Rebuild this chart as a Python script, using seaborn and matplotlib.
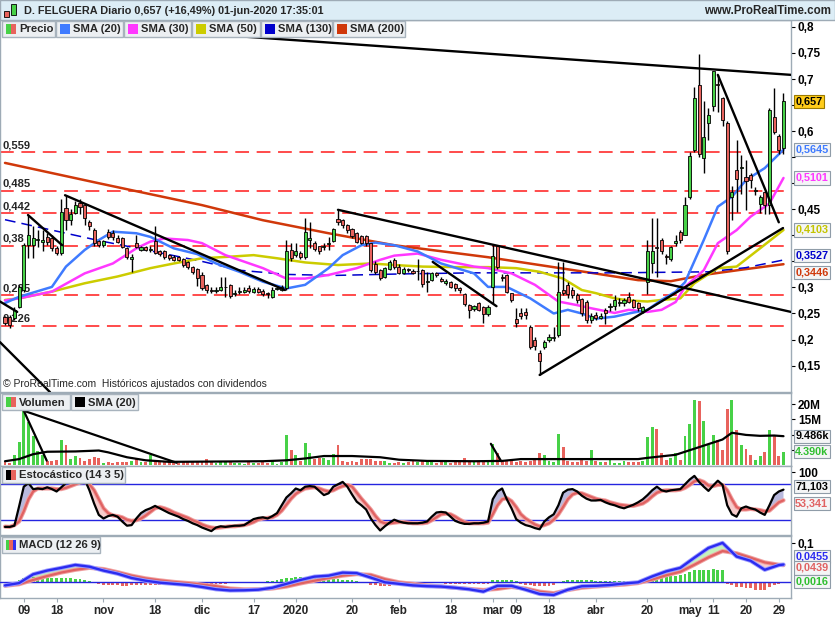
import numpy as np
import pandas as pd
import matplotlib
matplotlib.use("Agg")
import matplotlib.pyplot as plt
from matplotlib.patches import Rectangle
from matplotlib.transforms import Affine2D
from matplotlib.ticker import FuncFormatter, FixedLocator
import seaborn as sns

sns.set_style("white")
plt.rcParams["font.family"] = ["Liberation Sans", "DejaVu Sans"]

# ---------------- data ----------------
holidays = ["2019-12-25", "2019-12-26", "2020-01-01", "2020-04-10", "2020-04-13", "2020-05-01"]
dates = pd.bdate_range("2019-10-03", "2020-06-01")
dates = dates[~dates.isin(pd.to_datetime(holidays))]

opens = [.244,.243,.241,.263,.295,.381,.382,.392,.388,.396,
         .394,.375,.367,.452,.430,.442,.462,.458,.426,.410,
         .389,.381,.407,.405,.394,.394,.375,.355,.385,.372,
         .378,.372,.390,.370,.370,.362,.359,.358,.354,.348,
         .340,.335,.324,.305,.296,.293,.296,.300,.305,.288,
         .291,.292,.298,.292,.297,.294,.289,.282,.297,.296,
         .298,.372,.362,.366,.359,.392,.385,.379,.378,.383,
         .390,.431,.430,.420,.412,.405,.398,.398,.385,.345,
         .334,.320,.335,.353,.340,.328,.335,.332,.331,.333,
         .310,.315,.327,.317,.308,.311,.306,.298,.287,.266,
         .258,.270,.263,.249,.300,.379,.320,.324,.289,.240,
         .250,.253,.225,.200,.175,.185,.199,.202,.209,.295,
         .305,.295,.285,.277,.272,.237,.247,.242,.257,.263,
         .264,.270,.270,.281,.275,.271,.255,.310,.347,.378,
         .391,.360,.354,.385,.407,.401,.473,.564,.689,.548,
         .615,.648,.690,.663,.615,.474,.525,.530,.512,.516,
         .486,.460,.483,.458,.628,.591,.567]
highs = [.246,.247,.262,.305,.385,.439,.417,.410,.410,.405,
         .400,.380,.470,.478,.450,.465,.470,.460,.430,.415,
         .392,.392,.412,.410,.400,.397,.378,.365,.400,.380,
         .380,.380,.417,.372,.372,.365,.362,.360,.356,.350,
         .342,.337,.330,.307,.300,.300,.320,.320,.307,.295,
         .300,.300,.305,.300,.300,.297,.292,.300,.300,.305,
         .392,.385,.385,.370,.433,.425,.390,.380,.385,.397,
         .415,.449,.432,.422,.414,.407,.400,.400,.386,.350,
         .336,.340,.352,.356,.345,.340,.338,.335,.354,.336,
         .330,.330,.330,.320,.316,.313,.308,.300,.290,.268,
         .266,.272,.265,.266,.381,.382,.325,.326,.290,.260,
         .260,.260,.228,.205,.180,.200,.210,.225,.349,.349,
         .310,.300,.290,.280,.275,.250,.252,.250,.260,.270,
         .285,.280,.280,.292,.278,.273,.265,.391,.433,.433,
         .395,.365,.380,.400,.410,.474,.560,.685,.748,.657,
         .644,.716,.708,.665,.620,.494,.583,.554,.545,.520,
         .493,.477,.485,.645,.682,.595,.674]
lows = [.228,.222,.238,.260,.292,.356,.356,.378,.370,.382,
        .370,.362,.362,.410,.420,.440,.440,.420,.410,.380,
        .378,.378,.393,.392,.385,.375,.355,.330,.375,.370,
        .370,.368,.365,.360,.355,.352,.350,.350,.340,.335,
        .325,.302,.295,.290,.290,.290,.294,.282,.280,.283,
        .288,.290,.290,.290,.289,.283,.279,.280,.295,.294,
        .296,.350,.358,.355,.355,.375,.370,.365,.372,.372,
        .388,.420,.415,.405,.395,.385,.383,.380,.330,.325,
        .315,.318,.333,.336,.325,.325,.330,.325,.314,.300,
        .292,.312,.320,.310,.305,.298,.294,.290,.265,.241,
        .255,.255,.231,.246,.270,.335,.312,.290,.272,.225,
        .240,.240,.182,.180,.132,.182,.195,.198,.205,.285,
        .280,.280,.270,.245,.232,.232,.238,.240,.230,.255,
        .257,.265,.265,.270,.260,.255,.250,.288,.327,.320,
        .365,.345,.350,.380,.385,.400,.470,.560,.550,.520,
        .583,.638,.637,.610,.365,.430,.445,.480,.449,.490,
        .477,.442,.441,.441,.595,.557,.557]
closes = [.232,.228,.257,.301,.381,.400,.394,.392,.392,.388,
          .375,.367,.445,.429,.440,.458,.455,.433,.417,.385,
          .381,.389,.397,.396,.388,.378,.358,.359,.378,.378,
          .372,.374,.367,.364,.359,.356,.353,.353,.343,.339,
          .330,.319,.298,.295,.294,.295,.300,.300,.284,.290,
          .293,.296,.294,.297,.292,.288,.287,.296,.298,.300,
          .369,.356,.369,.359,.407,.395,.373,.369,.378,.386,
          .412,.426,.420,.410,.399,.388,.386,.385,.334,.330,
          .319,.337,.349,.340,.328,.336,.333,.328,.331,.306,
          .312,.327,.323,.313,.313,.301,.298,.295,.269,.257,
          .264,.257,.249,.263,.360,.340,.318,.292,.276,.232,
          .245,.247,.186,.187,.159,.196,.204,.205,.292,.289,
          .287,.285,.276,.250,.237,.245,.242,.246,.251,.263,
          .276,.272,.276,.273,.263,.260,.262,.370,.370,.375,
          .370,.358,.378,.389,.391,.458,.552,.663,.557,.588,
          .631,.716,.688,.621,.370,.484,.509,.530,.505,.506,
          .486,.473,.458,.641,.599,.564,.657]

# moving averages (bar index, value)
sma20_bar = [0,3,10,13,17,20,23,28,31,36,41,45,50,55,60,64,69,72,76,79,83,88,93,100,103,107,112,117,120,123,126,130,133,137,140,143,145,149,152,155,158,162,166]
sma20_val = [.270,.282,.301,.340,.372,.391,.407,.404,.397,.375,.364,.346,.330,.311,.298,.305,.337,.362,.381,.386,.381,.369,.346,.327,.301,.301,.279,.250,.257,.250,.240,.244,.250,.257,.276,.292,.310,.391,.455,.474,.506,.529,.5645]
sma30_bar = [0,3,10,17,23,28,31,34,39,42,47,55,60,64,69,75,80,83,88,93,100,103,108,113,118,122,125,130,133,137,140,143,145,149,152,156,159,163,166]
sma30_val = [.275,.279,.292,.327,.346,.375,.388,.394,.391,.385,.362,.337,.317,.317,.324,.337,.353,.361,.365,.353,.340,.337,.327,.305,.273,.266,.260,.251,.257,.253,.257,.272,.301,.333,.385,.410,.436,.461,.5101]
sma50_bar = [0,3,10,17,24,31,36,42,48,53,58,64,71,78,83,89,96,103,109,114,119,123,126,130,133,137,140,144,147,152,156,161,166]
sma50_val = [.276,.279,.292,.308,.321,.337,.346,.356,.359,.362,.356,.348,.343,.346,.343,.340,.339,.339,.337,.330,.317,.295,.289,.279,.275,.273,.276,.279,.308,.337,.340,.375,.4103]
sma130_bar = [0,10,20,30,42,50,60,70,85,100,130,150,158,166]
sma130_val = [.430,.410,.390,.372,.350,.333,.325,.323,.326,.328,.328,.330,.338,.3527]
sma200_bar = [0,20,42,55,69,83,103,125,135,142,149,157,166]
sma200_val = [.539,.500,.458,.429,.404,.381,.358,.328,.314,.312,.324,.334,.3446]

levels = [0.559, 0.485, 0.442, 0.380, 0.285, 0.226]

# hand-drawn trend lines: start bar, start price, end bar, end price
trend_b0 = [50, 71, 12.8, 4.9, 91.2, 114, 152, -1.07, -1.07]
trend_p0 = [.782, .449, .477, .439, .349, .132, .708, .273, .195]
trend_b1 = [167.6, 167.6, 59.7, 12.2, 104.8, 165.9, 165, 2.6, 9.6]
trend_p1 = [.708, .253, .295, .381, .264, .414, .425, .253, .099]

volume = [1.2,0.8,3.2,7.7,18.0,14.0,9.5,4.5,3.4,1.5,
          1.5,1.7,8.4,6.7,1.9,3.0,2.3,1.5,1.9,2.8,
          2.3,0.8,1.0,0.6,1.0,1.0,1.0,1.5,2.3,1.0,
          1.0,3.2,1.5,1.5,1.2,1.5,0.8,0.6,1.2,1.0,
          1.5,1.2,1.5,2.0,1.0,0.8,1.0,1.5,1.2,0.6,
          0.8,0.5,1.0,0.6,0.8,1.0,0.6,1.5,0.5,1.0,
          9.9,4.9,3.2,1.5,7.4,4.1,2.0,2.3,2.3,1.8,
          3.7,6.6,1.5,1.2,1.5,1.2,2.0,2.0,2.0,1.5,
          1.5,1.5,0.8,0.8,1.2,0.6,1.0,1.5,1.0,1.5,
          1.2,1.8,0.8,1.0,1.5,0.8,1.0,1.2,2.5,1.2,
          1.0,1.5,1.2,1.0,6.9,4.1,1.5,1.5,1.5,1.2,
          1.5,1.0,1.5,1.8,4.1,3.3,1.5,1.2,10.2,5.8,
          1.5,1.0,1.2,1.8,1.5,5.0,1.5,1.2,1.0,1.8,
          0.6,0.8,1.5,1.0,1.2,1.0,1.5,9.1,12.4,11.7,
          3.9,1.7,2.2,4.1,1.7,9.5,13.5,21.3,21.0,14.4,
          6.6,9.9,8.4,5.0,18.4,21.3,11.5,6.6,5.2,3.3,
          1.7,3.0,4.4,11.5,9.9,3.0,4.39]
vsma_bar = [0,3,6,9,15,20,22,26,30,35,45,55,60,64,68,74,80,84,90,100,106,110,120,135,137,143,148,153,155,158,161,164,166]
vsma_val = [1.3,2.0,3.6,4.4,4.5,4.8,4.2,2.6,1.6,1.1,1.2,1.3,1.6,2.2,3.0,3.0,2.6,1.8,1.4,1.3,1.4,2.0,2.0,2.0,2.4,3.4,5.9,8.4,10.6,9.9,9.6,9.7,9.486]
vol_trend_b0 = [4.0, 4.0, 103.6]
vol_trend_v0 = [17.8, 17.8, 7.0]
vol_trend_b1 = [8.9, 36.6, 105.8]
vol_trend_v1 = [1.5, 0.8, 1.3]

stoch_k = [9,9,11,43,76,82,72,73,72,75,
           72,68,75,82,85,87,88,88,70,48,
           29,23,27,29,26,18,11,12,23,32,
           37,40,44,40,36,32,29,26,22,19,
           15,12,8,5,2,8,10,9,10,11,
           11,12,17,22,24,25,23,27,32,45,
           58,65,73,70,76,77,76,69,62,65,
           76,80,84,76,63,51,45,38,23,12,
           3,10,16,21,18,16,15,15,15,16,
           18,26,33,34,33,26,19,16,14,14,
           15,15,16,18,55,68,73,55,40,22,
           16,12,10,7,5,18,25,30,45,66,
           71,72,68,61,56,53,53,54,50,47,
           45,42,40,43,46,50,55,62,70,76,
           70,68,70,71,72,80,88,94,84,76,
           69,78,86,79,45,30,26,40,43,40,
           38,33,29,45,62,68,71.103]
stoch_d = [9.5,9,12,18,35,55,68,73,73,73,
           73,72,72,74,77,80,83,84,80,70,
           55,40,32,28,27,25,21,19,20,23,
           28,34,40,42,40,37,33,30,27,24,
           20,17,13,10,8,7,8,9,10,10,
           11,12,14,17,21,23,24,25,29,36,
           46,56,64,69,73,74,75,73,70,68,
           70,74,77,79,76,66,56,47,38,27,
           18,15,15,16,17,17,16,15,15,15,
           16,20,25,30,31,30,26,21,17,15,
           15,15,15,16,30,45,55,57,52,42,
           30,23,18,13,10,12,15,21,30,42,
           55,63,66,65,62,59,56,54,53,50,
           48,46,45,44,44,46,48,53,60,66,
           69,70,70,70,71,74,79,85,87,84,
           78,77,79,79,70,55,42,38,38,39,
           38,37,35,36,43,50,53.341]

macd_bar = list(range(0, 166, 3)) + [166]
macd_line = [-0.008,-0.002,0.0205,0.030,0.037,0.0445,0.040,0.030,0.022,0.011,
             0.004,-0.001,-0.004,-0.007,-0.012,-0.018,-0.021,-0.0205,-0.019,-0.014,
             -0.004,0.006,0.0145,0.017,0.0248,0.0235,0.012,0.000,-0.004,-0.008,
             -0.010,-0.011,-0.014,-0.018,-0.024,-0.009,-0.009,-0.019,-0.030,-0.0325,
             -0.019,-0.010,-0.009,-0.007,-0.003,0.000,0.015,0.028,0.037,0.063,
             0.088,0.101,0.066,0.055,0.032,0.044,0.0455]
macd_signal = [-0.009,-0.005,0.006,0.016,0.025,0.032,0.037,0.034,0.026,0.017,
               0.010,0.005,0.001,-0.002,-0.006,-0.010,-0.016,-0.018,-0.018,-0.016,
               -0.011,-0.003,0.004,0.011,0.017,0.021,0.019,0.008,0.000,-0.004,
               -0.008,-0.011,-0.014,-0.017,-0.0197,-0.017,-0.012,-0.016,-0.024,-0.028,
               -0.020,-0.014,-0.011,-0.008,-0.006,-0.002,0.007,0.018,0.027,0.045,
               0.064,0.080,0.0744,0.063,0.051,0.045,0.0439]
macd_hist = [-0.002,-0.001,0.002,0.006,0.012,0.0145,0.014,0.013,0.013,0.012,
             0.011,0.011,0.010,0.010,0.010,0.009,0.008,0.006,0.003,-0.002,
             -0.005,-0.007,-0.008,-0.008,-0.008,-0.009,-0.009,-0.008,-0.008,-0.007,
             -0.007,-0.007,-0.006,-0.006,-0.006,-0.006,-0.005,-0.005,-0.005,-0.005,
             -0.005,-0.005,-0.004,-0.004,-0.004,-0.004,-0.004,-0.004,-0.003,-0.003,
             -0.002,-0.002,-0.001,-0.001,0.001,0.002,0.003,0.004,0.006,0.008,
             0.010,0.012,0.013,0.013,0.012,0.011,0.010,0.009,0.008,0.008,
             0.008,0.008,0.007,0.007,0.006,0.004,0.002,-0.002,-0.006,-0.008,
             -0.009,-0.009,-0.009,-0.008,-0.008,-0.007,-0.006,-0.005,-0.004,-0.003,
             -0.003,-0.003,-0.003,-0.003,-0.004,-0.004,-0.004,-0.004,-0.005,-0.005,
             -0.005,-0.005,-0.005,-0.004,0.006,0.007,0.007,0.006,0.005,0.003,
             -0.005,-0.007,-0.008,-0.009,-0.010,-0.010,-0.009,-0.006,0.002,0.004,
             0.006,0.007,0.007,0.006,0.005,0.005,0.004,0.004,0.004,0.004,
             0.004,0.004,0.004,0.003,0.003,0.003,0.004,0.008,0.013,0.013,
             0.014,0.014,0.015,0.016,0.019,0.022,0.027,0.031,0.032,0.032,
             0.032,0.033,0.032,0.031,-0.005,-0.007,-0.011,-0.013,-0.014,-0.015,
             -0.020,-0.021,-0.021,-0.012,-0.008,-0.004,0.0016]

tick_dates = ["2019-10-09", "2019-10-18", "2019-11-01", "2019-11-18", "2019-12-02", "2019-12-17",
              "2020-01-02", "2020-01-20", "2020-02-03", "2020-02-18", "2020-03-02", "2020-03-09",
              "2020-03-18", "2020-04-01", "2020-04-20", "2020-05-04", "2020-05-11", "2020-05-20",
              "2020-05-29"]
tick_labels = ["09", "18", "nov", "18", "dic", "17", "2020", "20", "feb", "18", "mar", "09",
               "18", "abr", "20", "may", "11", "20", "29"]

price_tick_labeled = [0.15, 0.20, 0.25, 0.30, 0.45, 0.60, 0.70, 0.75, 0.80]
price_tick_unlabeled = [0.35, 0.40, 0.50, 0.55, 0.65]
vol_tick_labeled = [15, 20]
vol_tick_unlabeled = [5, 10]

# ---------------- styling ----------------
GREEN, RED = "#47d147", "#e8635d"
C20, C30, C50, C130, C200 = "#3f7bff", "#ff38ff", "#cccc00", "#0000cc", "#d0380a"
GRAY = "#9eabb6"
BOLD = dict(fontweight="bold")

W, H = 835, 620
fig = plt.figure(figsize=(W / 100, H / 100), dpi=100)
fig.patch.set_facecolor("white")
PX = Affine2D().scale(1 / W, -1 / H).translate(0, 1) + fig.transFigure


def rect(x0, y0, x1, y1):
    return [x0 / W, 1 - y1 / H, (x1 - x0) / W, (y1 - y0) / H]


ax_p = fig.add_axes(rect(0, 20, 791, 392))
ax_v = fig.add_axes(rect(0, 393, 791, 466))
ax_s = fig.add_axes(rect(0, 466, 791, 535))
ax_m = fig.add_axes(rect(0, 536, 791, 598))

N = len(closes)
x = np.arange(N)
o, h, l, c = map(np.asarray, (opens, highs, lows, closes))
up = c >= o
XL = (-1.066, 167.6)

for ax in (ax_p, ax_v, ax_s, ax_m):
    ax.set_xlim(*XL)
    ax.set_facecolor("white")
    for s in ax.spines.values():
        s.set_color(GRAY)
        s.set_linewidth(1)
    ax.yaxis.tick_right()
    ax.tick_params(axis="y", which="both", direction="out", length=3, pad=2, colors="black",
                   labelsize=8.5, width=0.8)
    ax.tick_params(axis="x", which="both", bottom=False, labelbottom=False)
    ax.grid(False)


def comma(v, ndig):
    s = f"{v:.{ndig}f}".rstrip("0").rstrip(".")
    return s.replace(".", ",")


def bold_ticks(ax):
    for t in ax.get_yticklabels():
        t.set_fontweight("bold")


# ---- price panel ----
ax_p.set_ylim(0.0993, 0.8133)
for lvl in levels:
    ax_p.axhline(lvl, color="#ff1a1a", lw=1.1, ls=(0, (9, 5)), zorder=1)
    ax_p.annotate(comma(lvl, 3), xy=(XL[0], lvl), xytext=(2, 1.5), textcoords="offset points",
                  va="bottom", ha="left", fontsize=8, zorder=2, **BOLD)

sns.lineplot(x=sma200_bar, y=sma200_val, ax=ax_p, color=C200, lw=1.8, zorder=3, estimator=None, sort=False)
sns.lineplot(x=sma130_bar, y=sma130_val, ax=ax_p, color=C130, lw=1.1, ls=(0, (7, 4)), zorder=3, estimator=None, sort=False)
sns.lineplot(x=sma50_bar, y=sma50_val, ax=ax_p, color=C50, lw=1.8, zorder=3, estimator=None, sort=False)
sns.lineplot(x=sma30_bar, y=sma30_val, ax=ax_p, color=C30, lw=1.8, zorder=3, estimator=None, sort=False)
sns.lineplot(x=sma20_bar, y=sma20_val, ax=ax_p, color=C20, lw=1.8, zorder=3, estimator=None, sort=False)

ax_p.vlines(x, l, h, color="black", lw=1.0, zorder=4)
ax_p.bar(x, np.maximum(np.abs(c - o), 0.0015), bottom=np.minimum(o, c), width=0.66,
         color=np.where(up, GREEN, RED), edgecolor="black", linewidth=0.6, zorder=5)

for b0, p0, b1, p1 in zip(trend_b0, trend_p0, trend_b1, trend_p1):
    ax_p.plot([b0, b1], [p0, p1], color="black", lw=1.7, zorder=6, solid_capstyle="round")

ax_p.yaxis.set_major_locator(FixedLocator(price_tick_labeled))
ax_p.yaxis.set_minor_locator(FixedLocator(price_tick_unlabeled))
ax_p.yaxis.set_major_formatter(FuncFormatter(lambda v, p: comma(v, 2)))
bold_ticks(ax_p)

ax_p.text(0.004, 0.022, "© ProRealTime.com  Históricos ajustados con dividendos",
          transform=ax_p.transAxes, fontsize=7.5, va="center", ha="left", zorder=7)


def value_box(ax, val, text, tc, fc="#f4f5f6", ec="#8f9ca8", dy=0):
    ax.annotate(text, xy=(1, val), xycoords=("axes fraction", "data"), xytext=(3, dy),
                textcoords="offset points", va="center", ha="left", fontsize=7.8, color=tc,
                fontweight="bold", annotation_clip=False, zorder=20,
                bbox=dict(boxstyle="square,pad=0.15", fc=fc, ec=ec, lw=0.8))


value_box(ax_p, closes[-1], comma(closes[-1], 3), "black", fc="#ffcc1a", ec="#9a7a00")
value_box(ax_p, sma20_val[-1], comma(sma20_val[-1], 4), C20)
value_box(ax_p, sma30_val[-1], comma(sma30_val[-1], 4), C30)
value_box(ax_p, sma50_val[-1], comma(sma50_val[-1], 4), "#c4c400")
value_box(ax_p, sma130_val[-1], comma(sma130_val[-1], 4), C130, dy=3.2)
value_box(ax_p, sma200_val[-1], comma(sma200_val[-1], 4), C200, dy=-5.8)

# ---- volume panel ----
ax_v.set_ylim(-0.26, 23.6)
ax_v.bar(x, volume, width=0.62, color=np.where(up, GREEN, RED), lw=0, zorder=2)
sns.lineplot(x=vsma_bar, y=vsma_val, ax=ax_v, color="black", lw=1.6, zorder=3, estimator=None, sort=False)
for b0, v0, b1, v1 in zip(vol_trend_b0, vol_trend_v0, vol_trend_b1, vol_trend_v1):
    ax_v.plot([b0, b1], [v0, v1], color="black", lw=1.6, zorder=4)
ax_v.yaxis.set_major_locator(FixedLocator(vol_tick_labeled))
ax_v.yaxis.set_minor_locator(FixedLocator(vol_tick_unlabeled))
ax_v.yaxis.set_major_formatter(FuncFormatter(lambda v, p: f"{int(v)}M"))
bold_ticks(ax_v)
value_box(ax_v, vsma_val[-1], f"{vsma_val[-1]:.3f}k", "black")
value_box(ax_v, volume[-1], f"{volume[-1]:.3f}k", "#2fbf2f")

# ---- stochastic panel ----
k = np.asarray(stoch_k, float)
d = np.asarray(stoch_d, float)
ax_s.set_ylim(-4.5, 110.5)
ax_s.fill_between(x, k, d, where=k >= d, interpolate=True, color="#b9b9dd", lw=0, zorder=1)
ax_s.fill_between(x, k, d, where=k < d, interpolate=True, color="#f6cccc", lw=0, zorder=1)
ax_s.axhline(80, color="#2424e0", lw=1.0, zorder=2)
ax_s.axhline(20, color="#2424e0", lw=1.0, zorder=2)
sns.lineplot(x=x, y=d, ax=ax_s, color="#f0a0a0", lw=3.0, zorder=3, estimator=None, sort=False)
sns.lineplot(x=x, y=d, ax=ax_s, color="#e06262", lw=1.6, zorder=3, estimator=None, sort=False)
sns.lineplot(x=x, y=k, ax=ax_s, color="black", lw=1.6, zorder=4, estimator=None, sort=False)
ax_s.yaxis.set_major_locator(FixedLocator([100]))
ax_s.yaxis.set_major_formatter(FuncFormatter(lambda v, p: f"{int(v)}"))
bold_ticks(ax_s)
value_box(ax_s, stoch_k[-1], comma(stoch_k[-1], 3), "black", dy=2.2)
value_box(ax_s, stoch_d[-1], comma(stoch_d[-1], 3), "#e06262", dy=-2.2)

# ---- MACD panel ----
mb = np.asarray(macd_bar, float)
ml = np.asarray(macd_line)
ms = np.asarray(macd_signal)
hist = np.asarray(macd_hist)
ax_m.set_ylim(-0.0403, 0.1187)
ax_m.bar(x, hist, width=0.62, color=np.where(hist >= 0, GREEN, RED), lw=0, zorder=2)
ax_m.fill_between(mb, ml, ms, where=ml >= ms, interpolate=True, color="#c4f2bc", lw=0, zorder=1)
ax_m.fill_between(mb, ml, ms, where=ml < ms, interpolate=True, color="#f6cccc", lw=0, zorder=1)
ax_m.axhline(0, color="#2424e0", lw=1.0, zorder=3)
sns.lineplot(x=mb, y=ms, ax=ax_m, color="#f0a0a0", lw=3.0, zorder=4, estimator=None, sort=False)
sns.lineplot(x=mb, y=ms, ax=ax_m, color="#e06262", lw=1.6, zorder=4, estimator=None, sort=False)
sns.lineplot(x=mb, y=ml, ax=ax_m, color="#9c9cff", lw=3.0, zorder=5, estimator=None, sort=False)
sns.lineplot(x=mb, y=ml, ax=ax_m, color="#2b2bf0", lw=1.7, zorder=5, estimator=None, sort=False)
ax_m.yaxis.set_major_locator(FixedLocator([0.1]))
ax_m.yaxis.set_major_formatter(FuncFormatter(lambda v, p: comma(v, 2)))
bold_ticks(ax_m)
value_box(ax_m, macd_line[-1], comma(macd_line[-1], 4), "#2b2bf0", dy=5.6)
value_box(ax_m, macd_signal[-1], comma(macd_signal[-1], 4), "#e06262", dy=-2.0)
value_box(ax_m, macd_hist[-1], comma(macd_hist[-1], 4), "#2fbf2f", dy=0.3)

tick_pos = dates.get_indexer(pd.to_datetime(tick_dates))
ax_m.set_xticks(tick_pos)
ax_m.set_xticklabels(tick_labels, fontsize=8.5, fontweight="bold")
ax_m.tick_params(axis="x", which="major", bottom=True, labelbottom=True, length=3, color=GRAY, pad=2)

for ax in (ax_p, ax_v, ax_s, ax_m):
    ax.set_xlabel("")
    ax.set_ylabel("")
    if ax.get_legend() is not None:
        ax.get_legend().remove()

# ---------------- header & legends ----------------
fig.patches.append(Rectangle((0, 0), W, 20, transform=PX, fc="#dcedf6", ec=GRAY, lw=1, zorder=0))
fig.patches.append(Rectangle((4, 11), 5, 6, transform=PX, fc=RED, ec="black", lw=0.6))
fig.patches.append(Rectangle((11, 4), 5, 11, transform=PX, fc=GREEN, ec="black", lw=0.6))
fig.text(24, 10.5, "D. FELGUERA Diario 0,657 (+16,49%) 01-jun-2020 17:35:01", transform=PX,
         fontsize=7.8, va="center", ha="left", **BOLD)
fig.text(831, 10.5, "www.ProRealTime.com", transform=PX, fontsize=8.3, va="center", ha="right", **BOLD)


def legend_box(x0, x1, y0, y1, label, icon_colors):
    fig.patches.append(Rectangle((x0, y0), x1 - x0, y1 - y0, transform=PX, fc="#eceff2",
                                 ec="#a8b3bd", lw=1, zorder=5))
    n = len(icon_colors)
    wseg = 10 / n
    for i, col in enumerate(icon_colors):
        fig.patches.append(Rectangle((x0 + 4 + i * wseg, (y0 + y1) / 2 - 5), wseg, 10,
                                     transform=PX, fc=col, ec="none", zorder=6))
    fig.text(x0 + 17, (y0 + y1) / 2 + 0.5, label, transform=PX, fontsize=8.1, va="center",
             ha="left", zorder=7, **BOLD)


legend_box(2, 55, 21, 37, "Precio", [GREEN, RED])
legend_box(56, 123, 21, 37, "SMA (20)", [C20])
legend_box(124, 191, 21, 37, "SMA (30)", [C30])
legend_box(192, 260, 21, 37, "SMA (50)", [C50])
legend_box(261, 332, 21, 37, "SMA (130)", [C130])
legend_box(333, 405, 21, 37, "SMA (200)", [C200])
legend_box(2, 70, 394, 410, "Volumen", [GREEN, RED])
legend_box(71, 138, 394, 410, "SMA (20)", ["black"])
legend_box(2, 125, 467, 483, "Estocástico (14 3 5)", ["black", RED])
legend_box(2, 100, 537, 553, "MACD (12 26 9)", [GREEN, RED, "#3030f0"])

fig.savefig("out.png", dpi=100)
